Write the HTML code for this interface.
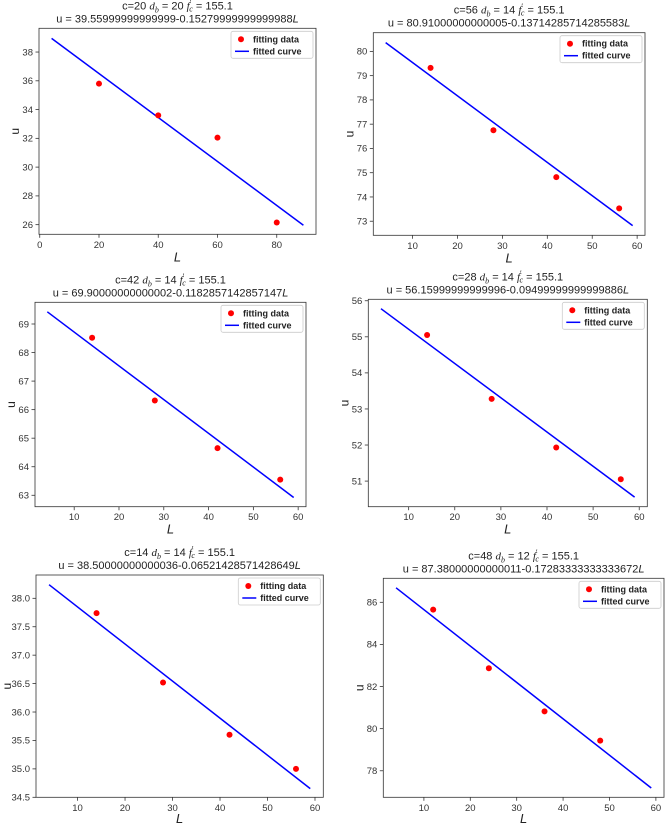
<!DOCTYPE html>
<html><head><meta charset="utf-8">
<style>
body{margin:0;background:#fff;}
svg{display:block;font-family:"Liberation Sans",sans-serif;}
</style></head>
<body>
<svg id="fig" width="667" height="826" viewBox="0 0 667 826" xmlns="http://www.w3.org/2000/svg"></svg>
<script>
// ---- data ----
const titles1 = ["c=20", "c=56", "c=42", "c=28", "c=14", "c=48"];
const dbVals = ["20", "14", "14", "14", "14", "12"];
const eqTexts = [
 "u = 39.55999999999999-0.15279999999999988",
 "u = 80.91000000000005-0.13714285714285583",
 "u = 69.90000000000002-0.1182857142857147",
 "u = 56.15999999999996-0.09499999999999886",
 "u = 38.50000000000036-0.06521428571428649",
 "u = 87.38000000000011-0.17283333333333672"];
const dataX1 = [20, 40, 60, 80];
const dataY1 = [35.8, 33.6, 32.05, 26.15];
const dataX2 = [14, 28, 42, 56];
const dataY2 = [79.32, 76.75, 74.82, 73.53];
const dataX3 = [14, 28, 42, 56];
const dataY3 = [68.52, 66.32, 64.65, 63.55];
const dataX4 = [14, 28, 42, 56];
const dataY4 = [55.05, 53.28, 51.93, 51.05];
const dataX5 = [14, 28, 42, 56];
const dataY5 = [37.74, 36.52, 35.6, 35.0];
const dataX6 = [12, 24, 36, 48];
const dataY6 = [85.65, 82.87, 80.82, 79.43];
const intercepts = [39.56, 80.91, 69.90, 56.16, 38.50, 87.38];
const slopes = [-0.1528, -0.137143, -0.118286, -0.095, -0.065214, -0.172833];
const lineStart = [4, 4, 4, 4, 4, 4];
const lineEnd = [89, 59, 59, 59, 59, 59];
const xTicks1 = [0, 20, 40, 60, 80];
const xTicksB = [10, 20, 30, 40, 50, 60];
const yTicks1 = [26, 28, 30, 32, 34, 36, 38];
const yTicks2 = [73, 74, 75, 76, 77, 78, 79, 80];
const yTicks3 = [63, 64, 65, 66, 67, 68, 69];
const yTicks4 = [51, 52, 53, 54, 55, 56];
const yTicks5 = [34.5, 35.0, 35.5, 36.0, 36.5, 37.0, 37.5, 38.0];
const yTicks6 = [78, 80, 82, 84, 86];

// ---- layout (pixel boxes + domains) ----
const panels = [
 {box:[39,28.3,316,234.3], xd:[-0.25,93.25], yd:[25.33,39.65], xs:dataX1, ys:dataY1, xt:xTicks1, yt:yTicks1, dec:0},
 {box:[373.3,32.7,645,235.3], xd:[1.25,61.75], yd:[72.42,80.77], xs:dataX2, ys:dataY2, xt:xTicksB, yt:yTicks2, dec:0},
 {box:[35,302.3,306,506.7], xd:[1.25,61.75], yd:[62.6,69.76], xs:dataX3, ys:dataY3, xt:xTicksB, yt:yTicks3, dec:0},
 {box:[368.3,299.3,647.3,506.7], xd:[1.25,61.75], yd:[50.29,56.04], xs:dataX4, ys:dataY4, xt:xTicksB, yt:yTicks4, dec:0},
 {box:[36,575,323.3,797.3], xd:[1.25,61.75], yd:[34.5,38.41], xs:dataX5, ys:dataY5, xt:xTicksB, yt:yTicks5, dec:1},
 {box:[383.3,578.3,664,797.3], xd:[1.25,61.75], yd:[76.74,87.14], xs:dataX6, ys:dataY6, xt:xTicksB, yt:yTicks6, dec:0}
];
const NS = "http://www.w3.org/2000/svg";
const svg = document.getElementById('fig');
function mk(tag, attrs, parent, txt){
  const e = document.createElementNS(NS, tag);
  for (const k in attrs) e.setAttribute(k, attrs[k]);
  if (txt !== undefined) e.textContent = txt;
  parent.appendChild(e);
  return e;
}
panels.forEach((p, i) => {
  const [x0,y0,x1,y1] = p.box;
  const sx = v => x0 + (v - p.xd[0]) / (p.xd[1] - p.xd[0]) * (x1 - x0);
  const sy = v => y1 - (v - p.yd[0]) / (p.yd[1] - p.yd[0]) * (y1 - y0);
  const g = mk('g', {}, svg);
  
  
  const cx = (x0 + x1) / 2;
  const t1 = mk('text', {x:cx, y:y0-19, 'text-anchor':'middle', 'font-size':'11', fill:'#222'}, g);
  
  
  t1.innerHTML = titles1[i] + ' <tspan font-style="italic" font-family="Liberation Serif">d</tspan><tspan font-size="8" dy="3" font-style="italic" font-family="Liberation Serif">b</tspan><tspan dy="-3"> = ' + dbVals[i] + ' </tspan><tspan font-style="italic" font-family="Liberation Serif">f</tspan><tspan font-size="8" dy="-4">′</tspan><tspan font-size="8" dy="6" dx="-2" font-style="italic" font-family="Liberation Serif">c</tspan><tspan dy="-2"> = 155.1</tspan>';
  const t2 = mk('text', {x:cx, y:y0-6, 'text-anchor':'middle', 'font-size':'11', fill:'#222'}, g);
  
  
  t2.innerHTML = eqTexts[i] + '<tspan font-style="italic">L</tspan>';
  // ticks
  p.xt.forEach(v => {
    const X = sx(v);
    const tk = mk('line', {x1:X, x2:X, y1:y1, y2:y1+3.5, stroke:'#333', 'stroke-width':0.8}, g);
    
    
    const tl = mk('text', {x:X, y:y1+13.5, 'text-anchor':'middle', 'font-size':'9.5', fill:'#333'}, g, String(v));
    
    
  });
  p.yt.forEach(v => {
    const Y = sy(v);
    const tk = mk('line', {x1:x0-3.5, x2:x0, y1:Y, y2:Y, stroke:'#333', 'stroke-width':0.8}, g);
    
    
    const tl = mk('text', {x:x0-6, y:Y+3.3, 'text-anchor':'end', 'font-size':'9.5', fill:'#333'}, g, v.toFixed(p.dec));
    
    
  });
  const xl = mk('text', {x:cx, y:Math.min(y1+27, 823), 'text-anchor':'middle', 'font-size':'13', 'font-style':'italic', fill:'#222'}, g, 'L');
  
  
  const yX = x0 - (p.dec ? 25 : 20);
  const yl = mk('text', {x:yX, y:(y0+y1)/2, 'text-anchor':'middle', 'font-size':'12', fill:'#222', transform:'rotate(-90 '+yX+' '+((y0+y1)/2)+')'}, g, 'u');
  
  
  // fitted line
  const la = lineStart[i], lb = lineEnd[i];
  const fl = mk('line', {x1:sx(la), y1:sy(intercepts[i]+slopes[i]*la), x2:sx(lb), y2:sy(intercepts[i]+slopes[i]*lb), stroke:'#0000ff', 'stroke-width':1.5}, g);
  
  
  // points
  p.xs.forEach((v, k) => {
    const c = mk('circle', {cx:sx(v), cy:sy(p.ys[k]), r:3, fill:'#ff0000'}, g);
    
    
  });
  // frame
  const fr = mk('rect', {x:x0, y:y0, width:x1-x0, height:y1-y0, fill:'none', stroke:'#333', 'stroke-width':0.8}, g);
  
  
  // legend
  const lw = 82, lh = 27, lx = x1 - lw - 3, ly = y0 + 3;
  const lg = mk('g', {}, g);
  
  
  mk('rect', {x:lx, y:ly, width:lw, height:lh, rx:2, fill:'#fff', 'fill-opacity':0.85, stroke:'#ccc', 'stroke-width':0.8}, lg);
  const le1 = mk('circle', {cx:lx+10, cy:ly+8, r:3, fill:'#ff0000'}, lg);
  
  
  const lt1 = mk('text', {x:lx+22, y:ly+11, 'font-size':'9', 'font-weight':'bold', fill:'#222'}, lg, 'fitting data');
  
  
  const le2 = mk('line', {x1:lx+4, x2:lx+18, y1:ly+20, y2:ly+20, stroke:'#0000ff', 'stroke-width':1.5}, lg);
  
  
  const lt2 = mk('text', {x:lx+22, y:ly+23, 'font-size':'9', 'font-weight':'bold', fill:'#222'}, lg, 'fitted curve');
  
  
});
</script>
</body></html>
